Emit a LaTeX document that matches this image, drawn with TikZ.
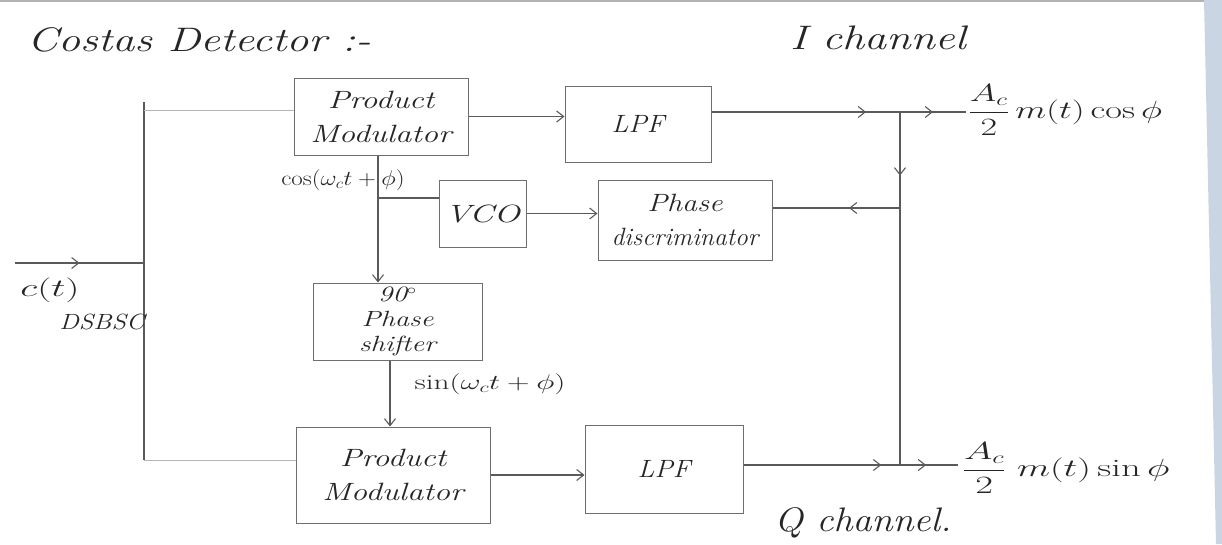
\documentclass[tikz,border=0pt]{standalone}
\usepackage{fontspec}
\usepackage{graphicx}
\usetikzlibrary{arrows.meta,decorations.markings,calc}
\definecolor{inkc}{HTML}{5A5A5A}
\definecolor{boxc}{HTML}{6E6E6E}
\definecolor{txtc}{HTML}{262626}
\definecolor{edgec}{HTML}{C9D5E2}
\newcommand\hws[2]{\scalebox{#1}[1]{#2}}
\begin{document}
\begin{tikzpicture}[x=1pt,y=-1pt,
  >={Straight Barb[length=7pt,width=11pt]},
  ln/.style={draw=inkc, line width=1.1pt},
  faint/.style={draw=inkc!45, line width=1pt},
  blk/.style={draw=boxc, line width=1pt, inner sep=0pt, align=center,
    text=txtc, font=\fontsize{25}{34}\selectfont\itshape},
  lab/.style={text=txtc, inner sep=0pt, font=\fontsize{25}{30}\selectfont\itshape},
  midarr/.style={postaction={decorate}, decoration={markings,
    mark=at position #1 with {\arrow{Straight Barb[length=7pt,width=11pt]}}}}
]
\useasboundingbox (0,0) rectangle (1222,544);
\fill[white] (0,0) rectangle (1222,544);
\fill[edgec] (1204,0) -- (1222,0) -- (1222,544) -- (1216,544) -- cycle;
\draw[gray!60, line width=1.5pt] (0,1) -- (1204,1);

% title and channel labels
\node[lab, anchor=west, font=\fontsize{34}{40}\selectfont\itshape] (title) at (27,40) {\hws{1.3}{Costas Detector :-}};
\node[lab, font=\fontsize{34}{40}\selectfont\itshape] (ich) at (878,38) {\hws{1.3}{I channel}};
\node[lab, font=\fontsize{34}{40}\selectfont\itshape] (qch) at (863,523) {\hws{1.12}{Q channel.}};

% blocks
\node[blk, minimum width=174pt, minimum height=77pt] (PM1) at (381,116.5) {\hws{1.3}{Product}\\\hws{1.3}{Modulator}};
\node[blk, minimum width=146pt, minimum height=76pt] (LPF1) at (638,124) {\hws{1.1}{LPF}};
\node[blk, minimum width=87pt, minimum height=67pt] (VCO) at (482.5,213.5) {\hws{1.4}{VCO}};
\node[blk, minimum width=174pt, minimum height=80pt] (PD) at (685,220) {\hws{1.2}{Phase}\\\hws{1.02}{discriminator}};
\node[blk, minimum width=169pt, minimum height=77pt, font=\fontsize{22}{25}\selectfont\itshape] (PS) at (397.5,321.5) {\hws{1.3}{90$^\circ$}\\\hws{1.3}{Phase}\\\hws{1.3}{shifter}};
\node[blk, minimum width=194pt, minimum height=96pt] (PM2) at (393,475) {\hws{1.3}{Product}\\\hws{1.3}{Modulator}};
\node[blk, minimum width=158pt, minimum height=88pt] (LPF2) at (664,469) {\hws{1.1}{LPF}};

% coordinates
\coordinate (inS) at (15,263);
\coordinate (LT) at (144,102);
\coordinate (LB) at (144,460);
\coordinate (topc) at (144,110);
\coordinate (J1) at (900,112);
\coordinate (J2) at (900,465);
\coordinate (F) at (900,208);
\coordinate (Iout) at (966,112);
\coordinate (Qout) at (958,465);
\coordinate (T) at (378,198);
\coordinate (S) at (390,400);

% connectors
\draw[ln] (LT) -- (LB);
\draw[ln, midarr=0.5] (inS) -- (inS -| LT);
\draw[faint] (topc) -- (topc -| PM1.west);
\draw[faint] (LB) -- (LB -| PM2.west);
\draw[ln,->] (PM1.east) -- (PM1.east -| LPF1.west);
\draw[ln, midarr=0.82] (LPF1.east |- J1) -- (J1);
\draw[ln, midarr=0.5] (J1) -- (Iout);
\draw[ln, midarr=0.18] (J1) -- (J2);
\draw[ln, midarr=0.4] (F) -- (F -| PD.east);
\draw[ln,->] (VCO.east) -- (VCO.east -| PD.west);
\draw[ln] (PM1.south -| T) -- (T);
\draw[ln,->] (T) -- (PS.north -| T);
\draw[ln] (T) -- (T -| VCO.west);
\draw[ln,->] (PS.south -| S) -- (PM2.north -| S);
\draw[ln,->] (PM2.east) -- (PM2.east -| LPF2.west);
\draw[ln, midarr=0.88] (LPF2.east |- J2) -- (J2);
\draw[ln, midarr=0.45] (J2) -- (Qout);

% signal labels
\node[lab, anchor=west] (Ilab) at (968,110) {\hws{1.45}{$\displaystyle\frac{A_c}{2}\,m(t)\cos\phi$}};
\node[lab, anchor=west] (Qlab) at (962,468) {\hws{1.55}{$\displaystyle\frac{A_c}{2}\;m(t)\sin\phi$}};
\node[lab] (coslab) at (343,180) {\scalebox{1.0}[0.85]{$\cos(\omega_c t+\phi)$}};
\node[lab] (sinlab) at (490,384) {\scalebox{1.25}[0.85]{$\sin(\omega_c t+\phi)$}};
\node[lab, font=\fontsize{24}{28}\selectfont\itshape] (ct) at (50,290) {\hws{1.6}{$c(t)$}};
\node[lab, font=\fontsize{22}{26}\selectfont\itshape] (dsb) at (102,322) {\hws{1.2}{DSBSC}};
\end{tikzpicture}
\end{document}
